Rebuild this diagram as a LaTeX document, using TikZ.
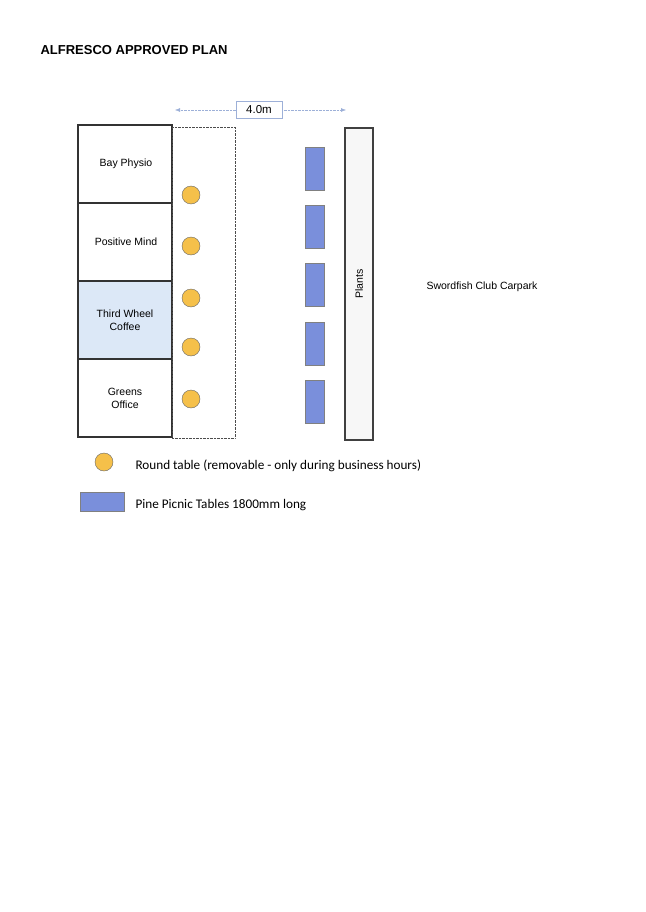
\documentclass[tikz,border=0pt]{standalone}
\usepackage{fontspec}
\setmainfont{Liberation Sans}
\newfontfamily\legendfont{Carlito}
\usetikzlibrary{positioning,arrows.meta}
\definecolor{tableyel}{HTML}{F5C04A}
\definecolor{picblue}{HTML}{7A8FDB}
\definecolor{cafeblue}{HTML}{DCE8F7}
\definecolor{arrowblue}{HTML}{9DB0D8}
\tikzset{
  shop/.style={draw=black!80,line width=1.6pt},
  roundtab/.style={circle,draw=black!60,fill=tableyel,minimum size=18pt,inner sep=0pt},
  picnic/.style={draw=black!50,fill=picblue,minimum width=19pt,minimum height=43pt,inner sep=0pt},
  lbl/.style={font=\fontsize{10.5}{13}\selectfont,align=center},
  keytxt/.style={anchor=west,font=\legendfont\fontsize{13.2}{15}\selectfont},
}
\begin{document}
\begin{tikzpicture}[x=1pt,y=-1pt]
\useasboundingbox (0,0) rectangle (645,912);
\node[anchor=west,font=\bfseries\fontsize{13}{15}\selectfont] (title) at (37,50) {ALFRESCO APPROVED PLAN};
% shops
\fill[cafeblue] (78,281) rectangle (172,359);
\draw[shop] (78,125) rectangle (172,437);
\foreach \y in {203,281,359} {
  \draw[shop] (78,\y) -- (172,\y);
}
\node[lbl] (bay) at (126,164) {Bay Physio};
\node[lbl] (pos) at (126,242) {Positive Mind};
\node[lbl] (third) at (125,320) {Third Wheel\\Coffee};
\node[lbl] (greens) at (125,398) {Greens\\Office};
% alfresco zone
\draw[densely dotted,black!70] (172,127) rectangle (235,438);
\foreach \y [count=\i] in {195,246,298,347,399} {
  \node[roundtab] (rt\i) at (191,\y) {};
}
% picnic tables
\foreach \y [count=\i] in {169,227,285,344,402} {
  \node[picnic] (pt\i) at (315,\y) {};
}
% plants
\draw[line width=2pt,black!75,fill=black!3] (345,128) rectangle (373,440);
\node[lbl,rotate=90] (plants) at (359,284) {Plants};
\node[lbl] (carpark) at (482,287) {Swordfish Club Carpark};
% width arrow
\node[draw=arrowblue,fill=white,font=\fontsize{11.5}{13}\selectfont,minimum width=46pt,minimum height=17pt] (dim) at (259,110) {4.0m};
\coordinate (dl) at (175,110);
\coordinate (dr) at (346,110);
\draw[arrowblue,densely dotted,-{Latex[length=5pt]}] (dim) -- (dl);
\draw[arrowblue,densely dotted,-{Latex[length=5pt]}] (dim) -- (dr);
% legend
\node[roundtab] (keyrt) at (104,462) {};
\node[keytxt] (keyrttxt) at (132,466) {Round table (removable - only during business hours)};
\node[picnic,minimum width=44pt,minimum height=19pt] (keypt) at (102,502) {};
\node[keytxt] (keypttxt) at (132,505) {Pine Picnic Tables 1800mm long};
\end{tikzpicture}
\end{document}
